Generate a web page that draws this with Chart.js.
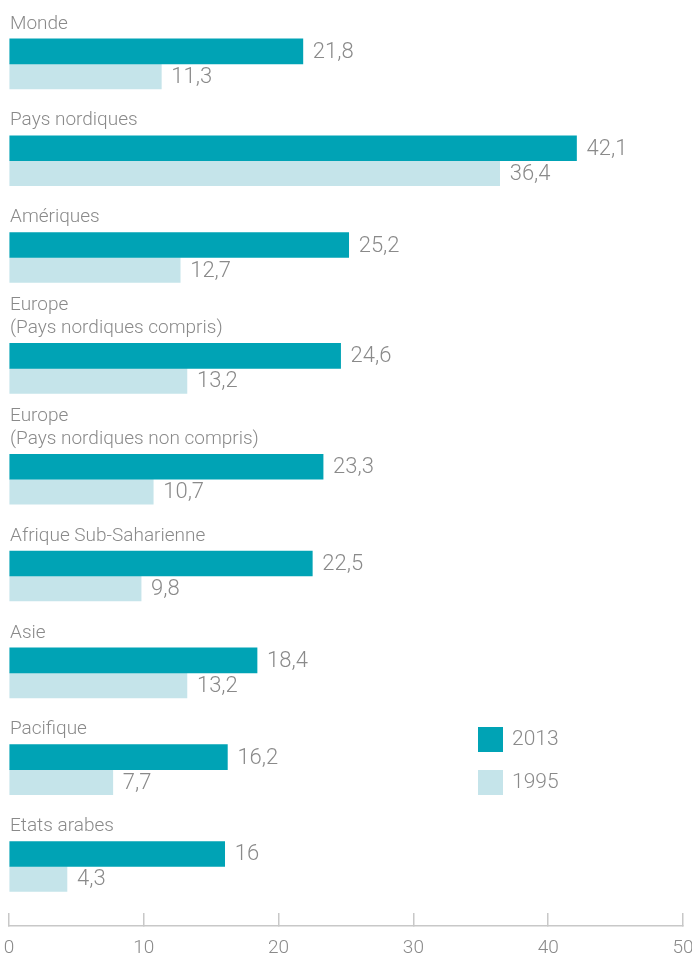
<!DOCTYPE html>
<html>
<head>
    <meta charset="utf-8"/>
    <title>Chart</title>
    <script src="https://cdn.jsdelivr.net/npm/chart.js@4/dist/chart.umd.min.js"></script>
    <style>
        html, body { margin: 0; padding: 0; background: #fff; }
        .chart-container { position: relative; width: 692px; height: 956px; }
    </style>
</head>
<body>
    <div class="chart-container">
        <canvas id="myChart"></canvas>
    </div>
    <script>
        // data
        const categories = [
            ['Monde'],
            ['Pays nordiques'],
            ['Amériques'],
            ['Europe', '(Pays nordiques compris)'],
            ['Europe', '(Pays nordiques non compris)'],
            ['Afrique Sub-Saharienne'],
            ['Asie'],
            ['Pacifique'],
            ['Etats arabes']
        ];
        const seriesLabels = ['2013', '1995'];
        const values2013 = [21.8, 42.1, 25.2, 24.6, 23.3, 22.5, 18.4, 16.2, 16];
        const values1995 = [11.3, 36.4, 12.7, 13.2, 10.7, 9.8, 13.2, 7.7, 4.3];
        const xTicks = [0, 10, 20, 30, 40, 50];

        const DARK = '#00a3b5';
        const LIGHT = '#c5e4ea';
        const TEXT = '#8a8a8a';
        const AXIS = '#c8c8c8';
        const FONT = "Roboto, 'Open Sans', sans-serif";

        // each extra label line pushes the group down a bit
        const EXTRA_LINE = 0.145;
        const rowPos = [];
        categories.forEach((lines, i) => {
            rowPos.push(i === 0 ? 0 : rowPos[i - 1] + 1 + EXTRA_LINE * (lines.length - 1));
        });

        const fmt = v => String(v).replace('.', ',');

        const labelsPlugin = {
            id: 'labels',
            afterDatasetsDraw(chart) {
                const ctx = chart.ctx;
                const left = chart.chartArea.left;
                ctx.save();
                ctx.textBaseline = 'middle';
                ctx.textAlign = 'left';
                ctx.fillStyle = TEXT;

                // category names above the bars
                ctx.font = '300 19px ' + FONT;
                const meta0 = chart.getDatasetMeta(0);
                meta0.data.forEach((bar, i) => {
                    const top = bar.y - bar.height / 2;
                    const lines = categories[i];
                    lines.forEach((line, j) => {
                        const y = top - 15 - (lines.length - 1 - j) * 23;
                        ctx.fillText(line, left + 1, y);
                    });
                });

                // values at bar ends
                ctx.font = '300 22px ' + FONT;
                chart.data.datasets.forEach((ds, d) => {
                    chart.getDatasetMeta(d).data.forEach((bar, i) => {
                        ctx.fillText(fmt(ds.data[i].x), bar.x + 10, bar.y + 1);
                    });
                });

                // legend
                ctx.font = '300 21px ' + FONT;
                chart.data.datasets.forEach((ds, d) => {
                    const y = 727 + d * 43;
                    ctx.fillStyle = ds.backgroundColor;
                    ctx.fillRect(478, y, 25, 25);
                    ctx.fillStyle = TEXT;
                    ctx.fillText(ds.label, 512, y + 13);
                });
                ctx.restore();
            }
        };

        const ctx = document.getElementById('myChart').getContext('2d');
        const myChart = new Chart(ctx, {
            type: 'bar',
            data: {
                datasets: [{
                    label: seriesLabels[0],
                    data: values2013.map((v, i) => ({ x: v, y: rowPos[i] })),
                    backgroundColor: DARK,
                    borderWidth: 0,
                    barThickness: 25
                }, {
                    label: seriesLabels[1],
                    data: values1995.map((v, i) => ({ x: v, y: rowPos[i] })),
                    backgroundColor: LIGHT,
                    borderWidth: 0,
                    barThickness: 25
                }]
            },
            options: {
                indexAxis: 'y',
                responsive: true,
                maintainAspectRatio: false,
                animation: false,
                layout: { padding: { left: 9, right: 9, top: 0, bottom: 0 } },
                plugins: {
                    legend: { display: false },
                    tooltip: { enabled: false }
                },
                scales: {
                    y: {
                        type: 'linear',
                        display: false,
                        reverse: true,
                        offset: false,
                        min: -0.66,
                        max: 8.905
                    },
                    x: {
                        type: 'linear',
                        min: xTicks[0],
                        max: xTicks[xTicks.length - 1],
                        afterBuildTicks: scale => {
                            scale.ticks = xTicks.map(v => ({ value: v }));
                        },
                        afterFit: scale => {
                            scale.paddingLeft = 0;
                            scale.paddingRight = 0;
                            scale.height = 30;
                        },
                        border: { display: true, color: AXIS, width: 1.5 },
                        grid: {
                            drawOnChartArea: false,
                            drawTicks: true,
                            tickLength: -13,
                            color: AXIS,
                            lineWidth: 1.5
                        },
                        ticks: {
                            padding: 24,
                            color: TEXT,
                            maxRotation: 0,
                            font: { family: FONT, size: 19, weight: '300' }
                        }
                    }
                }
            },
            plugins: [labelsPlugin]
        });
    </script>
</body>
</html>
